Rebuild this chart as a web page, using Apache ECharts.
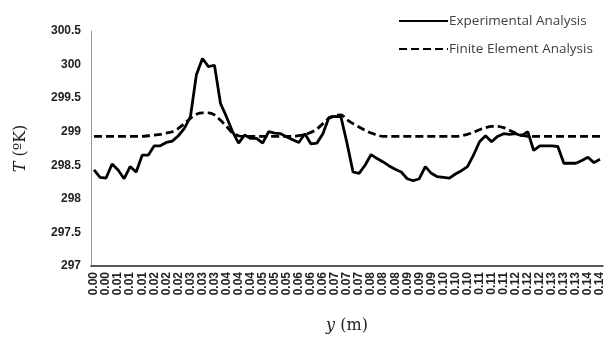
<!DOCTYPE html>
<html>
<head>
<meta charset="utf-8">
<script src="https://cdn.jsdelivr.net/npm/echarts@6/dist/echarts.min.js"></script>
<style>html,body{margin:0;padding:0;background:#fff;}#c{width:610px;height:343px;}</style>
</head>
<body>
<div id="c"></div>
<script>
// Category labels: position y (m), one per measurement point
const categories = [
"0.00","0.00","0.00","0.01","0.01","0.01","0.01","0.01","0.01","0.02",
"0.02","0.02","0.02","0.02","0.02","0.03","0.03","0.03","0.03","0.03",
"0.03","0.04","0.04","0.04","0.04","0.04","0.04","0.05","0.05","0.05",
"0.05","0.05","0.05","0.06","0.06","0.06","0.06","0.06","0.06","0.07",
"0.07","0.07","0.07","0.07","0.07","0.08","0.08","0.08","0.08","0.08",
"0.08","0.09","0.09","0.09","0.09","0.09","0.09","0.10","0.10","0.10",
"0.10","0.10","0.10","0.11","0.11","0.11","0.11","0.11","0.11","0.12",
"0.12","0.12","0.12","0.12","0.12","0.13","0.13","0.13","0.13","0.13",
"0.13","0.14","0.14","0.14","0.14"
];

const experimental = [
298.43,298.32,298.31,298.52,298.43,298.30,298.48,298.40,298.65,298.65,
298.79,298.79,298.84,298.86,298.94,299.05,299.22,299.85,300.09,299.97,
299.99,299.42,299.22,299.00,298.83,298.95,298.90,298.90,298.83,299.00,
298.98,298.97,298.92,298.88,298.84,298.97,298.82,298.83,298.97,299.21,
299.23,299.22,298.83,298.40,298.38,298.50,298.66,298.60,298.55,298.49,
298.44,298.40,298.30,298.27,298.30,298.48,298.38,298.33,298.32,298.31,
298.37,298.42,298.48,298.65,298.85,298.94,298.85,298.93,298.97,298.96,
298.97,298.94,299.00,298.72,298.79,298.79,298.79,298.78,298.53,298.53,
298.53,298.57,298.62,298.54,298.59
];

const finiteElement = [
298.93,298.93,298.93,298.93,298.93,298.93,298.93,298.93,298.93,298.94,
298.95,298.96,298.98,299.00,299.05,299.12,299.20,299.26,299.28,299.28,
299.25,299.17,299.08,298.98,298.94,298.93,298.93,298.93,298.93,298.93,
298.93,298.93,298.93,298.93,298.94,298.96,298.99,299.04,299.12,299.20,
299.24,299.25,299.18,299.12,299.07,299.02,298.98,298.95,298.93,298.93,
298.93,298.93,298.93,298.93,298.93,298.93,298.93,298.93,298.93,298.93,
298.93,298.94,298.96,298.99,299.03,299.06,299.08,299.08,299.06,299.02,
298.98,298.95,298.93,298.93,298.93,298.93,298.93,298.93,298.93,298.93,
298.93,298.93,298.93,298.93,298.93
];

const yMin = 297, yMax = 300.5, yStep = 0.5;

const chart = echarts.init(document.getElementById('c'), null, {renderer:'canvas'});
chart.setOption({
  animation: false,
  backgroundColor: '#fff',
  grid: {left: 91, right: 7, top: 31, bottom: 77, containLabel: false},
  legend: {
    orient: 'vertical',
    left: 393, top: 9,
    itemWidth: 49, itemHeight: 14, itemGap: 14,
    itemStyle: {opacity: 0},
    textStyle: {fontFamily: 'Open Sans', fontSize: 13.5, color: '#404040', padding: [0, 0, 0, -4]},
    data: ['Experimental Analysis', 'Finite Element Analysis']
  },
  xAxis: {
    type: 'category',
    data: categories,
    boundaryGap: true,
    name: '{i|y} (m)',
    nameLocation: 'middle',
    nameGap: 52,
    nameTextStyle: {
      fontFamily: 'DejaVu Serif', fontSize: 16, color: '#222',
      rich: {i: {fontFamily: 'DejaVu Serif', fontStyle: 'italic', fontSize: 16, color: '#222'}}
    },
    axisLine: {lineStyle: {color: '#222', width: 1.5}},
    axisTick: {show: false},
    axisLabel: {
      interval: 1, rotate: 90, margin: 6,
      fontFamily: 'Liberation Sans', fontWeight: 'bold', fontSize: 12, color: '#222'
    },
    splitLine: {show: false}
  },
  yAxis: {
    type: 'value',
    min: yMin, max: yMax, interval: yStep,
    name: '{i|T} (ºK)',
    nameLocation: 'middle',
    nameRotate: 90,
    nameGap: 62,
    nameTextStyle: {
      fontFamily: 'DejaVu Serif', fontSize: 16, color: '#222',
      rich: {i: {fontFamily: 'DejaVu Serif', fontStyle: 'italic', fontSize: 16, color: '#222'}}
    },
    axisLine: {show: true, lineStyle: {color: '#999', width: 1}},
    axisTick: {show: false},
    axisLabel: {
      margin: 10,
      fontFamily: 'Liberation Sans', fontWeight: 'bold', fontSize: 12, color: '#222'
    },
    splitLine: {show: false}
  },
  series: [
    {
      name: 'Experimental Analysis',
      type: 'line',
      data: experimental,
      symbol: 'none',
      showSymbol: false,
      lineStyle: {color: '#000', width: 2.8, type: 'solid'},
      itemStyle: {color: '#000'}
    },
    {
      name: 'Finite Element Analysis',
      type: 'line',
      data: finiteElement,
      symbol: 'none',
      showSymbol: false,
      smooth: 0.3,
      lineStyle: {color: '#000', width: 2.8, type: [8, 4]},
      itemStyle: {color: '#000'}
    }
  ]
});
</script>
</body>
</html>
